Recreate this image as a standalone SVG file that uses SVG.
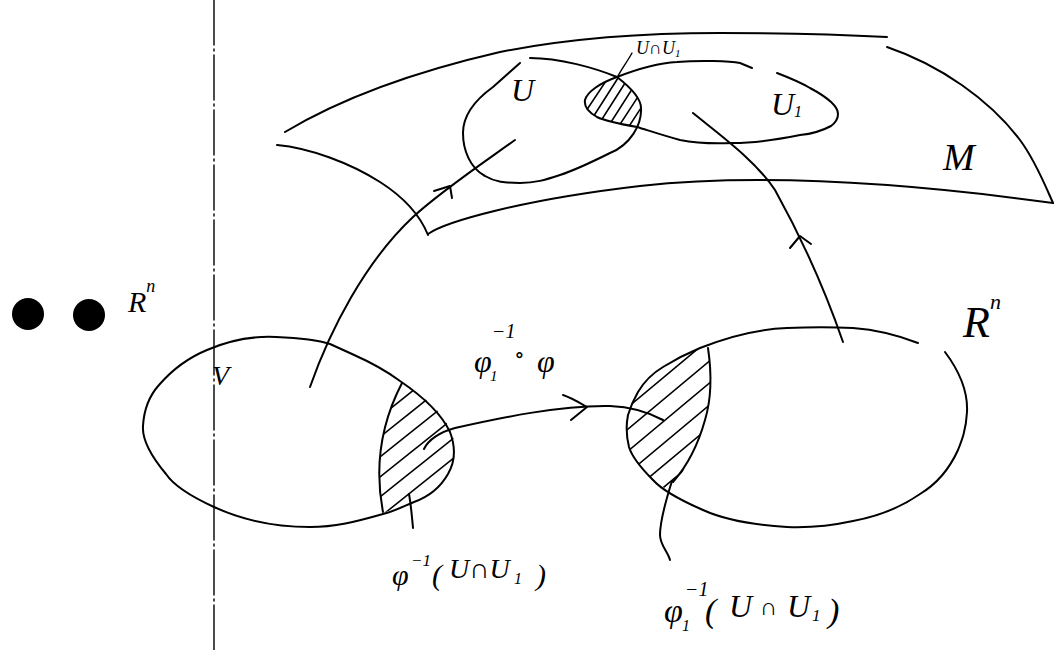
<svg xmlns="http://www.w3.org/2000/svg" width="1055" height="650" viewBox="0 0 1055 650">
<style>
.ln{fill:none;stroke:#000;stroke-width:2;stroke-linecap:round;stroke-linejoin:round}
.th{fill:none;stroke:#000;stroke-width:1.4;stroke-linecap:round}
.ht{stroke:#000;stroke-width:1.6;stroke-linecap:round}
.tx{font-family:"Liberation Serif","DejaVu Serif",serif;font-style:italic;fill:#000}
</style>
<defs>
<clipPath id="clipL"><path d="M402,383 C388,410 372,455 383,513 L414,502 C440,488 455,465 455,450 C455,430 440,405 402,383 Z"/></clipPath>
<clipPath id="clipR"><path d="M708,346 C712,375 711,400 705,420 C698,445 688,465 670,492 L653,480 C640,467 632,457 629,447 C626,435 626,425 628,415 C631,405 634,399 638,392 C645,380 653,373 663,367 C676,359 688,353 708,346 Z"/></clipPath>
<clipPath id="clipLens"><path d="M617,77 C630,88 641,98 641,108 C642,117 640,123 637,127 C620,124 605,121 597,117 C588,112 584,106 585,100 C587,92 600,83 617,77 Z"/></clipPath>
</defs>
<rect width="1055" height="650" fill="#fff"/>

<g id="axis-line">
<line x1="214" y1="0" x2="214" y2="650" class="th" stroke-dasharray="45 4 2 4"/>
</g>

<g id="dots">
<circle cx="28" cy="314" r="16" fill="#000"/>
<circle cx="89" cy="315" r="16" fill="#000"/>
</g>

<g id="manifold-M">
<path class="ln" d="M285,132 C330,105 400,75 500,52 C560,40 640,33 720,33 C800,33 850,35 887,37"/>
<path class="ln" d="M277,145 C310,148 350,163 380,182 C405,198 420,215 428,235"/>
<path class="ln" d="M428,234 C445,222 520,200 640,186 C760,173 900,182 1053,203"/>
<path class="ln" d="M887,47 C940,65 990,100 1020,140 C1035,160 1045,185 1053,203"/>
<text class="tx" x="943" y="170" font-size="38">M</text>
</g>

<g id="set-U">
<path class="ln" d="M530,58 C560,58 595,68 617,77 C630,87 641,98 641,108 C642,125 630,145 610,153 C590,163 575,170 560,175 C545,180 535,183 520,183 C505,183 495,182 485,176 C470,168 463,150 463,133 C463,115 475,100 493,87 C503,78 512,70 520,63"/>
<text class="tx" x="511" y="101" font-size="32">U</text>
</g>

<g id="set-U1">
<path class="ln" d="M617,77 C640,68 660,63 677,62 C700,60 730,61 740,63 L752,68"/>
<path class="ln" d="M777,73 C790,78 800,82 810,88 C825,96 838,105 838,114 C838,120 835,123 831,126 C820,132 810,134 800,135 C780,139 755,143 733,143 C710,144 695,143 680,140 C665,136 650,131 637,127 C620,124 605,121 597,117 C588,112 584,106 585,100 C587,92 600,83 617,77"/>
<text class="tx" x="771" y="115" font-size="32">U<tspan font-size="16" dy="2">1</tspan></text>
</g>

<g id="intersection-U-U1">
<g clip-path="url(#clipLens)">
<line class="ht" x1="580" y1="120" x2="610" y2="75"/>
<line class="ht" x1="588" y1="125" x2="618" y2="78"/>
<line class="ht" x1="597" y1="127" x2="627" y2="80"/>
<line class="ht" x1="606" y1="130" x2="636" y2="83"/>
<line class="ht" x1="615" y1="132" x2="645" y2="86"/>
<line class="ht" x1="624" y1="134" x2="654" y2="88"/>
<line class="ht" x1="633" y1="134" x2="663" y2="88"/>
</g>
<path class="th" d="M632,53 C627,62 621,70 618,76"/>
<text class="tx" x="636" y="54" font-size="18">U∩U<tspan font-size="11" dy="3">1</tspan></text>
</g>

<g id="chart-left">
<path class="ln" d="M207,350 C230,340 255,336 276,337 C300,338 318,340 330,344 L352,354 C370,362 388,372 400,381 C425,398 442,415 450,432 C456,448 455,462 448,474 C440,488 428,497 414,502 C400,508 392,512 383,514 C355,522 335,527 310,527 C270,527 238,518 214,507 C190,496 174,486 166,474 C150,455 142,440 143,426 C144,408 150,395 159,385 C172,370 190,357 207,350 Z"/>
<path class="ln" d="M402,383 C388,410 372,455 383,512"/>
<g clip-path="url(#clipL)">
<line class="ht" x1="360" y1="413" x2="470" y2="325"/>
<line class="ht" x1="360" y1="433" x2="470" y2="345"/>
<line class="ht" x1="360" y1="453" x2="470" y2="365"/>
<line class="ht" x1="360" y1="473" x2="470" y2="385"/>
<line class="ht" x1="360" y1="493" x2="470" y2="405"/>
<line class="ht" x1="360" y1="513" x2="470" y2="425"/>
<line class="ht" x1="360" y1="533" x2="470" y2="445"/>
<line class="ht" x1="360" y1="553" x2="470" y2="465"/>
</g>
<text class="tx" x="128" y="312" font-size="30">R<tspan font-size="18" dy="-20">n</tspan></text>
<text class="tx" x="212" y="385" font-size="28">V</text>
</g>

<g id="chart-right">
<path class="ln" d="M945,352 C960,372 968,392 967,412 C966,430 962,440 958,450 C948,472 935,485 920,494 C900,508 880,516 853,521 C830,526 810,528 787,527 C755,525 725,520 703,510 C680,500 662,490 653,480 C640,467 632,457 629,447 C626,435 626,425 628,415 C631,405 634,399 638,392 C645,380 653,373 663,367 C676,359 688,353 700,348 C730,336 760,329 787,328 C810,327 833,327 853,328 C880,330 900,336 918,343"/>
<path class="ln" d="M708,348 C712,375 711,400 705,420 C698,445 688,465 673,482"/>
<g clip-path="url(#clipR)">
<line class="ht" x1="610" y1="400" x2="730" y2="300"/>
<line class="ht" x1="610" y1="422" x2="730" y2="322"/>
<line class="ht" x1="610" y1="444" x2="730" y2="344"/>
<line class="ht" x1="610" y1="466" x2="730" y2="366"/>
<line class="ht" x1="610" y1="488" x2="730" y2="388"/>
<line class="ht" x1="610" y1="510" x2="730" y2="410"/>
<line class="ht" x1="610" y1="532" x2="730" y2="432"/>
</g>
<text class="tx" x="963" y="337" font-size="44">R<tspan font-size="22" dy="-28">n</tspan></text>
</g>

<g id="connectors">
<path class="ln" d="M310,387 C330,330 365,262 413,217 C440,192 480,165 515,140"/>
<path class="ln" d="M434,191 L450,186 L452,198"/>
<path class="ln" d="M843,342 C825,290 800,235 775,190 C755,160 720,135 693,113"/>
<path class="ln" d="M790,248 L800,236 L811,244"/>
<path class="ln" d="M424,449 C428,440 440,432 455,428 C500,418 560,405 610,406 C635,407 650,413 663,420"/>
<path class="ln" d="M563,395 C572,398 580,403 587,407 L571,420"/>
<path class="ln" d="M409,494 C411,505 412,517 413,528"/>
<path class="ln" d="M672,481 C666,500 660,520 660,535 C660,545 668,552 670,560"/>
</g>

<g id="labels">
<text class="tx" font-size="32"><tspan x="474" y="372">φ</tspan><tspan x="490" y="381" font-size="15">1</tspan><tspan x="492" y="338" font-size="20">−1</tspan><tspan x="514" y="362" font-size="22">∘</tspan><tspan x="537" y="372">φ</tspan></text>
<text class="tx" font-size="30"><tspan x="392" y="585">φ</tspan><tspan x="411" y="566" font-size="17">−1</tspan><tspan x="432" y="585">(</tspan><tspan x="449" y="578" font-size="28">U∩U</tspan><tspan x="514" y="584" font-size="16">1</tspan><tspan x="536" y="585">)</tspan></text>
<text class="tx" font-size="34"><tspan x="664" y="622">φ</tspan><tspan x="682" y="631" font-size="16">1</tspan><tspan x="685" y="596" font-size="20">−1</tspan><tspan x="705" y="622">(</tspan><tspan x="729" y="617" font-size="32">U</tspan><tspan x="760" y="615" font-size="24">∩</tspan><tspan x="787" y="617" font-size="32">U</tspan><tspan x="812" y="621" font-size="17">1</tspan><tspan x="828" y="622">)</tspan></text>
</g>
</svg>
